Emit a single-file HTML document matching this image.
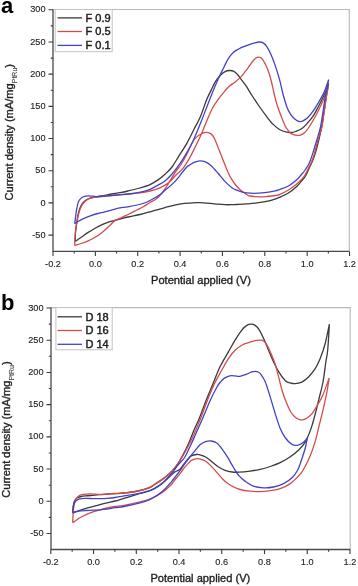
<!DOCTYPE html>
<html><head><meta charset="utf-8">
<style>
html,body{margin:0;padding:0;background:#fff;}
body{width:358px;height:586px;overflow:hidden;}
svg{display:block;}
text{font-family:"Liberation Sans",sans-serif;fill:#1e1e1e;stroke:#1e1e1e;stroke-width:0.12px;}
.tk{font-size:9.2px;}
.ti{font-size:11.1px;stroke-width:0.35px;}
.sub{font-size:7px;stroke-width:0.1px;fill:#444;stroke:#444;}
.lg{font-size:11px;stroke-width:0.45px;}
.pl{font-size:22px;font-weight:bold;fill:#000;stroke:none;}
</style></head>
<body>
<svg width="358" height="586" viewBox="0 0 358 586">
<defs><filter id="bl" x="0" y="0" width="1" height="1"><feGaussianBlur stdDeviation="0.3"/></filter></defs>
<rect width="358" height="586" fill="#fff"/>
<g filter="url(#bl)">
<path d="M53.00 9.50 H349.30 V251.40" stroke="#b9b9b9" stroke-width="1.1" fill="none"/>
<g fill="none" stroke-width="1.3" stroke-linejoin="round">
<path d="M75.20 241.50 C75.25 240.08 75.27 235.92 75.50 233.00 C75.73 230.08 76.22 226.83 76.60 224.00 C76.98 221.17 77.30 218.50 77.80 216.00 C78.30 213.50 78.85 211.08 79.60 209.00 C80.35 206.92 81.28 204.95 82.30 203.50 C83.32 202.05 84.42 201.18 85.70 200.30 C86.98 199.42 87.97 198.83 90.00 198.20 C92.03 197.57 95.42 196.97 97.90 196.50 C100.38 196.03 102.57 195.82 104.90 195.40 C107.23 194.98 109.38 194.45 111.90 194.00 C114.42 193.55 117.32 193.20 120.00 192.70 C122.68 192.20 124.67 191.78 128.00 191.00 C131.33 190.22 136.33 189.05 140.00 188.00 C143.67 186.95 147.00 186.05 150.00 184.70 C153.00 183.35 155.50 181.63 158.00 179.90 C160.50 178.17 162.67 176.45 165.00 174.30 C167.33 172.15 169.77 169.92 172.00 167.00 C174.23 164.08 175.93 160.73 178.40 156.80 C180.87 152.87 184.20 147.98 186.80 143.40 C189.40 138.82 191.65 133.97 194.00 129.30 C196.35 124.63 198.82 120.28 200.90 115.40 C202.98 110.52 204.78 104.22 206.50 100.00 C208.22 95.78 209.72 93.15 211.20 90.10 C212.68 87.05 213.78 84.27 215.40 81.70 C217.02 79.13 219.28 76.38 220.90 74.70 C222.52 73.02 223.70 72.30 225.10 71.60 C226.50 70.90 227.90 70.57 229.30 70.50 C230.70 70.43 232.10 70.50 233.50 71.20 C234.90 71.90 236.30 73.18 237.70 74.70 C239.10 76.22 240.50 78.43 241.90 80.30 C243.30 82.17 244.42 83.37 246.10 85.90 C247.78 88.43 249.85 92.15 252.00 95.50 C254.15 98.85 256.67 102.63 259.00 106.00 C261.33 109.37 263.68 112.68 266.00 115.70 C268.32 118.72 270.58 121.77 272.90 124.10 C275.22 126.43 277.57 128.35 279.90 129.70 C282.23 131.05 285.03 131.73 286.90 132.20 C288.77 132.67 289.65 132.62 291.10 132.50 C292.55 132.38 293.78 132.15 295.60 131.50 C297.42 130.85 299.92 130.13 302.00 128.60 C304.08 127.07 306.25 124.37 308.10 122.30 C309.95 120.23 311.43 118.72 313.10 116.20 C314.77 113.68 316.42 110.38 318.10 107.20 C319.78 104.02 321.67 100.47 323.20 97.10 C324.73 93.73 326.42 89.27 327.30 87.00 C328.18 84.73 328.30 84.08 328.50 83.50 M328.50 83.50 C328.35 84.42 327.92 87.08 327.60 89.00 C327.28 90.92 327.02 92.33 326.60 95.00 C326.18 97.67 325.60 101.67 325.10 105.00 C324.60 108.33 324.20 111.17 323.60 115.00 C323.00 118.83 322.30 123.83 321.50 128.00 C320.70 132.17 319.80 135.90 318.80 140.00 C317.80 144.10 316.55 149.10 315.50 152.60 C314.45 156.10 313.58 158.35 312.50 161.00 C311.42 163.65 310.12 166.08 309.00 168.50 C307.88 170.92 307.05 173.42 305.80 175.50 C304.55 177.58 302.97 179.22 301.50 181.00 C300.03 182.78 299.18 184.20 297.00 186.20 C294.82 188.20 291.23 191.17 288.40 193.00 C285.57 194.83 282.75 196.00 280.00 197.20 C277.25 198.40 274.65 199.42 271.90 200.20 C269.15 200.98 266.30 201.40 263.50 201.90 C260.70 202.40 257.88 202.87 255.10 203.20 C252.32 203.53 249.58 203.70 246.80 203.90 C244.02 204.10 240.88 204.27 238.40 204.40 C235.92 204.53 234.15 204.65 231.90 204.70 C229.65 204.75 227.23 204.78 224.90 204.70 C222.57 204.62 220.23 204.42 217.90 204.20 C215.57 203.98 213.22 203.63 210.90 203.40 C208.58 203.17 206.32 202.92 204.00 202.80 C201.68 202.68 199.33 202.65 197.00 202.70 C194.67 202.75 192.05 202.98 190.00 203.10 C187.95 203.22 187.45 203.02 184.70 203.40 C181.95 203.78 176.78 204.70 173.50 205.40 C170.22 206.10 167.75 206.87 165.00 207.60 C162.25 208.33 159.50 209.10 157.00 209.80 C154.50 210.50 152.83 211.02 150.00 211.80 C147.17 212.58 143.67 213.63 140.00 214.50 C136.33 215.37 131.33 216.23 128.00 217.00 C124.67 217.77 122.22 218.53 120.00 219.10 C117.78 219.67 116.52 219.93 114.70 220.40 C112.88 220.87 111.20 221.18 109.10 221.90 C107.00 222.62 104.43 223.65 102.10 224.70 C99.77 225.75 97.42 226.92 95.10 228.20 C92.78 229.48 90.52 230.88 88.20 232.40 C85.88 233.92 83.37 235.78 81.20 237.30 C79.03 238.82 76.20 240.80 75.20 241.50" stroke="#3a3a3a"/>
<path d="M74.70 245.60 C74.75 244.17 74.83 239.77 75.00 237.00 C75.17 234.23 75.33 231.72 75.70 229.00 C76.07 226.28 76.65 223.45 77.20 220.70 C77.75 217.95 78.23 215.05 79.00 212.50 C79.77 209.95 80.77 207.27 81.80 205.40 C82.83 203.53 84.08 202.37 85.20 201.30 C86.32 200.23 87.20 199.60 88.50 199.00 C89.80 198.40 90.73 198.15 93.00 197.70 C95.27 197.25 99.42 196.65 102.10 196.30 C104.78 195.95 106.95 195.82 109.10 195.60 C111.25 195.38 113.18 195.17 115.00 195.00 C116.82 194.83 117.67 194.80 120.00 194.60 C122.33 194.40 125.67 194.10 129.00 193.80 C132.33 193.50 136.50 193.27 140.00 192.80 C143.50 192.33 147.00 191.70 150.00 191.00 C153.00 190.30 155.50 189.58 158.00 188.60 C160.50 187.62 162.90 186.38 165.00 185.10 C167.10 183.82 168.73 182.63 170.60 180.90 C172.47 179.17 174.13 176.78 176.20 174.70 C178.27 172.62 180.83 171.07 183.00 168.40 C185.17 165.73 187.20 162.18 189.20 158.70 C191.20 155.22 192.97 151.62 195.00 147.50 C197.03 143.38 199.25 138.88 201.40 134.00 C203.55 129.12 206.05 122.53 207.90 118.20 C209.75 113.87 210.87 111.03 212.50 108.00 C214.13 104.97 215.83 102.62 217.70 100.00 C219.57 97.38 221.77 94.58 223.70 92.30 C225.63 90.02 227.43 87.98 229.30 86.30 C231.17 84.62 233.03 83.68 234.90 82.20 C236.77 80.72 238.63 79.37 240.50 77.40 C242.37 75.43 244.52 72.47 246.10 70.40 C247.68 68.33 248.78 66.65 250.00 65.00 C251.22 63.35 252.40 61.67 253.40 60.50 C254.40 59.33 255.15 58.57 256.00 58.00 C256.85 57.43 257.53 57.02 258.50 57.10 C259.47 57.18 260.55 57.10 261.80 58.50 C263.05 59.90 264.80 63.08 266.00 65.50 C267.20 67.92 268.08 70.25 269.00 73.00 C269.92 75.75 270.62 78.42 271.50 82.00 C272.38 85.58 273.37 90.67 274.30 94.50 C275.23 98.33 275.93 101.33 277.10 105.00 C278.27 108.67 279.90 112.92 281.30 116.50 C282.70 120.08 284.10 123.88 285.50 126.50 C286.90 129.12 288.37 130.85 289.70 132.20 C291.03 133.55 292.20 134.07 293.50 134.60 C294.80 135.13 296.25 135.37 297.50 135.40 C298.75 135.43 299.83 135.23 301.00 134.80 C302.17 134.37 303.32 133.85 304.50 132.80 C305.68 131.75 306.67 130.55 308.10 128.50 C309.53 126.45 311.43 123.38 313.10 120.50 C314.77 117.62 316.42 114.60 318.10 111.20 C319.78 107.80 321.68 103.80 323.20 100.10 C324.72 96.40 326.33 91.45 327.20 89.00 C328.07 86.55 328.20 86.00 328.40 85.40 M328.40 85.40 C328.28 86.17 327.98 88.40 327.70 90.00 C327.42 91.60 327.12 92.50 326.70 95.00 C326.28 97.50 325.70 101.67 325.20 105.00 C324.70 108.33 324.30 111.17 323.70 115.00 C323.10 118.83 322.55 123.83 321.60 128.00 C320.65 132.17 319.15 135.90 318.00 140.00 C316.85 144.10 315.78 148.93 314.70 152.60 C313.62 156.27 312.62 159.27 311.50 162.00 C310.38 164.73 309.07 166.83 308.00 169.00 C306.93 171.17 306.27 173.17 305.10 175.00 C303.93 176.83 302.38 178.50 301.00 180.00 C299.62 181.50 298.90 182.33 296.80 184.00 C294.70 185.67 291.20 188.28 288.40 190.00 C285.60 191.72 282.20 193.38 280.00 194.30 C277.80 195.22 277.38 195.13 275.20 195.50 C273.02 195.87 269.68 196.27 266.90 196.50 C264.12 196.73 261.30 196.98 258.50 196.90 C255.70 196.82 251.88 196.28 250.10 196.00 C248.32 195.72 249.20 196.02 247.80 195.20 C246.40 194.38 243.58 192.63 241.70 191.10 C239.82 189.57 238.22 188.03 236.50 186.00 C234.78 183.97 232.93 181.45 231.40 178.90 C229.87 176.35 228.67 173.78 227.30 170.70 C225.93 167.62 224.55 163.82 223.20 160.40 C221.85 156.98 220.55 153.60 219.20 150.20 C217.85 146.80 216.13 142.37 215.10 140.00 C214.07 137.63 213.82 137.12 213.00 136.00 C212.18 134.88 211.40 133.90 210.20 133.30 C209.00 132.70 207.42 132.25 205.80 132.40 C204.18 132.55 202.28 133.20 200.50 134.20 C198.72 135.20 196.55 136.87 195.10 138.40 C193.65 139.93 193.18 140.75 191.80 143.40 C190.42 146.05 188.60 150.78 186.80 154.30 C185.00 157.82 182.77 161.75 181.00 164.50 C179.23 167.25 177.70 168.63 176.20 170.80 C174.70 172.97 173.28 175.38 172.00 177.50 C170.72 179.62 169.67 181.62 168.50 183.50 C167.33 185.38 166.28 186.97 165.00 188.80 C163.72 190.63 162.30 192.80 160.80 194.50 C159.30 196.20 157.80 197.67 156.00 199.00 C154.20 200.33 152.18 201.17 150.00 202.50 C147.82 203.83 145.23 205.67 142.90 207.00 C140.57 208.33 138.32 209.33 136.00 210.50 C133.68 211.67 131.33 212.87 129.00 214.00 C126.67 215.13 124.33 216.20 122.00 217.30 C119.67 218.40 117.15 219.13 115.00 220.60 C112.85 222.07 111.25 224.13 109.10 226.10 C106.95 228.07 104.43 230.53 102.10 232.40 C99.77 234.27 97.42 235.90 95.10 237.30 C92.78 238.70 90.52 239.77 88.20 240.80 C85.88 241.83 83.45 242.70 81.20 243.50 C78.95 244.30 75.78 245.25 74.70 245.60" stroke="#d44c4c"/>
<path d="M74.70 223.80 C74.85 222.60 75.25 219.17 75.60 216.60 C75.95 214.03 76.35 210.78 76.80 208.40 C77.25 206.02 77.63 203.97 78.30 202.30 C78.97 200.63 79.78 199.38 80.80 198.40 C81.82 197.42 83.12 196.82 84.40 196.40 C85.68 195.98 87.07 195.93 88.50 195.90 C89.93 195.87 91.43 196.08 93.00 196.20 C94.57 196.32 95.92 196.60 97.90 196.60 C99.88 196.60 102.57 196.38 104.90 196.20 C107.23 196.02 109.38 195.73 111.90 195.50 C114.42 195.27 117.15 195.05 120.00 194.80 C122.85 194.55 125.18 194.53 129.00 194.00 C132.82 193.47 139.40 192.38 142.90 191.60 C146.40 190.82 147.48 190.38 150.00 189.30 C152.52 188.22 155.50 186.50 158.00 185.10 C160.50 183.70 162.67 182.75 165.00 180.90 C167.33 179.05 169.57 176.78 172.00 174.00 C174.43 171.22 177.03 167.93 179.60 164.20 C182.17 160.47 185.15 155.48 187.40 151.60 C189.65 147.72 190.85 145.78 193.10 140.90 C195.35 136.02 198.17 129.12 200.90 122.30 C203.63 115.48 207.32 105.60 209.50 100.00 C211.68 94.40 212.55 92.22 214.00 88.70 C215.45 85.18 216.58 82.40 218.20 78.90 C219.82 75.40 222.08 70.97 223.70 67.70 C225.32 64.43 226.27 61.87 227.90 59.30 C229.53 56.73 231.63 54.05 233.50 52.30 C235.37 50.55 237.18 49.82 239.10 48.80 C241.02 47.78 242.85 47.07 245.00 46.20 C247.15 45.33 249.67 44.30 252.00 43.60 C254.33 42.90 257.13 42.12 259.00 42.00 C260.87 41.88 261.82 42.02 263.20 42.90 C264.58 43.78 265.92 45.17 267.30 47.30 C268.68 49.43 270.10 52.43 271.50 55.70 C272.90 58.97 274.30 62.70 275.70 66.90 C277.10 71.10 278.73 76.55 279.90 80.90 C281.07 85.25 281.53 88.65 282.70 93.00 C283.87 97.35 285.60 103.47 286.90 107.00 C288.20 110.53 289.28 112.28 290.50 114.20 C291.72 116.12 292.95 117.33 294.20 118.50 C295.45 119.67 296.95 120.68 298.00 121.20 C299.05 121.72 299.67 121.65 300.50 121.60 C301.33 121.55 301.73 121.63 303.00 120.90 C304.27 120.17 306.42 118.82 308.10 117.20 C309.78 115.58 311.43 113.55 313.10 111.20 C314.77 108.85 316.42 105.95 318.10 103.10 C319.78 100.25 321.80 96.95 323.20 94.10 C324.60 91.25 325.60 88.42 326.50 86.00 C327.40 83.58 328.25 80.67 328.60 79.60 M328.60 79.60 C328.40 80.83 327.92 84.43 327.40 87.00 C326.88 89.57 326.07 92.00 325.50 95.00 C324.93 98.00 324.50 101.67 324.00 105.00 C323.50 108.33 323.12 111.17 322.50 115.00 C321.88 118.83 321.25 123.83 320.30 128.00 C319.35 132.17 318.02 135.90 316.80 140.00 C315.58 144.10 314.25 148.77 313.00 152.60 C311.75 156.43 310.62 160.10 309.30 163.00 C307.98 165.90 306.48 168.00 305.10 170.00 C303.72 172.00 302.38 173.38 301.00 175.00 C299.62 176.62 298.90 177.87 296.80 179.70 C294.70 181.53 291.20 184.40 288.40 186.00 C285.60 187.60 282.20 188.48 280.00 189.30 C277.80 190.12 277.38 190.40 275.20 190.90 C273.02 191.40 269.68 191.92 266.90 192.30 C264.12 192.68 261.30 193.05 258.50 193.20 C255.70 193.35 252.62 193.35 250.10 193.20 C247.58 193.05 245.63 192.80 243.40 192.30 C241.17 191.80 238.62 190.97 236.70 190.20 C234.78 189.43 233.87 189.17 231.90 187.70 C229.93 186.23 227.23 183.85 224.90 181.40 C222.57 178.95 220.23 175.67 217.90 173.00 C215.57 170.33 212.98 167.25 210.90 165.40 C208.82 163.55 207.25 162.65 205.40 161.90 C203.55 161.15 201.67 160.83 199.80 160.90 C197.93 160.97 195.83 161.67 194.20 162.30 C192.57 162.93 191.23 163.92 190.00 164.70 C188.77 165.48 187.97 165.87 186.80 167.00 C185.63 168.13 184.30 169.87 183.00 171.50 C181.70 173.13 180.83 174.65 179.00 176.80 C177.17 178.95 174.33 182.15 172.00 184.40 C169.67 186.65 167.10 188.53 165.00 190.30 C162.90 192.07 161.90 193.30 159.40 195.00 C156.90 196.70 152.75 199.08 150.00 200.50 C147.25 201.92 146.40 202.48 142.90 203.50 C139.40 204.52 132.82 205.87 129.00 206.60 C125.18 207.33 122.33 207.48 120.00 207.90 C117.67 208.32 117.52 208.45 115.00 209.10 C112.48 209.75 107.75 211.07 104.90 211.80 C102.05 212.53 100.22 212.87 97.90 213.50 C95.58 214.13 93.32 214.78 91.00 215.60 C88.68 216.42 86.10 217.47 84.00 218.40 C81.90 219.33 79.95 220.30 78.40 221.20 C76.85 222.10 75.32 223.37 74.70 223.80" stroke="#4343c8"/>
</g>
<path d="M53.00 9.50 V251.40 H349.30" stroke="#4a4a4a" stroke-width="1.3" fill="none"/>
<path d="M48.50 9.80H53.00 M48.50 41.98H53.00 M48.50 74.17H53.00 M48.50 106.36H53.00 M48.50 138.54H53.00 M48.50 170.73H53.00 M48.50 202.91H53.00 M48.50 235.10H53.00 M50.80 25.89H53.00 M50.80 58.08H53.00 M50.80 90.26H53.00 M50.80 122.45H53.00 M50.80 154.63H53.00 M50.80 186.82H53.00 M50.80 219.00H53.00 M53.00 251.40V255.90 M74.18 251.40V253.60 M95.36 251.40V255.90 M116.54 251.40V253.60 M137.72 251.40V255.90 M158.90 251.40V253.60 M180.08 251.40V255.90 M201.26 251.40V253.60 M222.44 251.40V255.90 M243.62 251.40V253.60 M264.80 251.40V255.90 M285.98 251.40V253.60 M307.16 251.40V255.90 M328.34 251.40V253.60 M349.52 251.40V255.90" stroke="#3a3a3a" stroke-width="1.1" fill="none"/>
<text x="45.60" y="12.40" text-anchor="end" class="tk">300</text>
<text x="45.60" y="44.59" text-anchor="end" class="tk">250</text>
<text x="45.60" y="76.77" text-anchor="end" class="tk">200</text>
<text x="45.60" y="108.95" text-anchor="end" class="tk">150</text>
<text x="45.60" y="141.14" text-anchor="end" class="tk">100</text>
<text x="45.60" y="173.33" text-anchor="end" class="tk">50</text>
<text x="45.60" y="205.51" text-anchor="end" class="tk">0</text>
<text x="45.60" y="237.70" text-anchor="end" class="tk">-50</text>
<text x="53.00" y="266.70" text-anchor="middle" class="tk">-0.2</text>
<text x="95.36" y="266.70" text-anchor="middle" class="tk">0.0</text>
<text x="137.72" y="266.70" text-anchor="middle" class="tk">0.2</text>
<text x="180.08" y="266.70" text-anchor="middle" class="tk">0.4</text>
<text x="222.44" y="266.70" text-anchor="middle" class="tk">0.6</text>
<text x="264.80" y="266.70" text-anchor="middle" class="tk">0.8</text>
<text x="307.16" y="266.70" text-anchor="middle" class="tk">1.0</text>
<text x="349.52" y="266.70" text-anchor="middle" class="tk">1.2</text>
<text x="151.00" y="283.90" class="ti">Potential applied (V)</text>
<text transform="translate(12.50 132.20) rotate(-90)" text-anchor="middle" class="ti">Current density (mA/mg<tspan class="sub" dy="4.2">PtRu</tspan><tspan dy="-4.2">)</tspan></text>
<text x="1.0" y="13.30" class="pl">a</text>
<rect x="55.20" y="9.50" width="57.00" height="42.20" fill="#fff" stroke="#c4c4c4" stroke-width="1"/>
<path d="M57.50 17.90H82.00" stroke="#3a3a3a" stroke-width="1.3"/>
<text x="85.50" y="21.80" class="lg">F 0.9</text>
<path d="M57.50 31.50H82.00" stroke="#d44c4c" stroke-width="1.3"/>
<text x="85.50" y="35.40" class="lg">F 0.5</text>
<path d="M57.50 45.40H82.00" stroke="#4343c8" stroke-width="1.3"/>
<text x="85.50" y="49.30" class="lg">F 0.1</text>
<path d="M51.00 307.60 H350.20 V549.50" stroke="#b9b9b9" stroke-width="1.1" fill="none"/>
<g fill="none" stroke-width="1.3" stroke-linejoin="round">
<path d="M72.70 512.60 C72.78 511.50 72.90 507.93 73.20 506.00 C73.50 504.07 73.87 502.33 74.50 501.00 C75.13 499.67 75.92 498.75 77.00 498.00 C78.08 497.25 79.50 496.87 81.00 496.50 C82.50 496.13 84.02 496.00 86.00 495.80 C87.98 495.60 90.58 495.48 92.90 495.30 C95.22 495.12 97.57 494.88 99.90 494.70 C102.23 494.52 104.38 494.37 106.90 494.20 C109.42 494.03 112.15 493.90 115.00 493.70 C117.85 493.50 120.18 493.45 124.00 493.00 C127.82 492.55 133.72 491.87 137.90 491.00 C142.08 490.13 146.25 488.93 149.10 487.80 C151.95 486.67 152.85 485.57 155.00 484.20 C157.15 482.83 159.67 481.30 162.00 479.60 C164.33 477.90 166.67 476.22 169.00 474.00 C171.33 471.78 173.73 469.38 176.00 466.30 C178.27 463.22 180.52 459.25 182.60 455.50 C184.68 451.75 186.60 448.05 188.50 443.80 C190.40 439.55 192.25 434.13 194.00 430.00 C195.75 425.87 197.00 423.88 199.00 419.00 C201.00 414.12 203.68 406.53 206.00 400.70 C208.32 394.87 210.82 389.12 212.90 384.00 C214.98 378.88 217.03 373.40 218.50 370.00 C219.97 366.60 220.05 366.62 221.70 363.60 C223.35 360.58 226.17 355.80 228.40 351.90 C230.63 348.00 232.87 343.83 235.10 340.20 C237.33 336.57 239.85 332.57 241.80 330.10 C243.75 327.63 245.27 326.38 246.80 325.40 C248.33 324.42 249.60 324.20 251.00 324.20 C252.40 324.20 253.80 324.42 255.20 325.40 C256.60 326.38 258.00 327.92 259.40 330.10 C260.80 332.28 262.07 335.15 263.60 338.50 C265.13 341.85 267.07 346.57 268.60 350.20 C270.13 353.83 271.13 356.72 272.80 360.30 C274.47 363.88 276.52 368.30 278.60 371.70 C280.68 375.10 283.40 378.83 285.30 380.70 C287.20 382.57 288.37 382.40 290.00 382.90 C291.63 383.40 293.13 383.83 295.10 383.70 C297.07 383.57 299.57 383.22 301.80 382.10 C304.03 380.98 306.27 379.23 308.50 377.00 C310.73 374.77 313.25 371.77 315.20 368.70 C317.15 365.63 318.53 362.80 320.20 358.60 C321.87 354.40 323.67 349.23 325.20 343.50 C326.73 337.77 328.70 327.42 329.40 324.20 M329.40 324.20 C329.12 328.50 328.32 343.53 327.70 350.00 C327.08 356.47 326.48 357.67 325.70 363.00 C324.92 368.33 324.13 375.98 323.00 382.00 C321.87 388.02 320.23 393.63 318.90 399.10 C317.57 404.57 316.30 409.92 315.00 414.80 C313.70 419.68 312.73 423.85 311.10 428.40 C309.47 432.95 307.32 438.45 305.20 442.10 C303.08 445.75 300.88 447.85 298.40 450.30 C295.92 452.75 293.33 454.73 290.30 456.80 C287.27 458.87 283.55 461.08 280.20 462.70 C276.85 464.32 273.55 465.38 270.20 466.50 C266.85 467.62 263.45 468.63 260.10 469.40 C256.75 470.17 253.60 470.63 250.10 471.10 C246.60 471.57 242.10 472.05 239.10 472.20 C236.10 472.35 234.43 472.32 232.10 472.00 C229.77 471.68 227.42 471.17 225.10 470.30 C222.78 469.43 220.52 468.32 218.20 466.80 C215.88 465.28 213.30 462.83 211.20 461.20 C209.10 459.57 207.47 458.07 205.60 457.00 C203.73 455.93 201.52 455.22 200.00 454.80 C198.48 454.38 197.95 454.33 196.50 454.50 C195.05 454.67 192.63 455.13 191.30 455.80 C189.97 456.47 189.72 457.13 188.50 458.50 C187.28 459.87 185.47 462.17 184.00 464.00 C182.53 465.83 181.23 468.15 179.70 469.50 C178.17 470.85 177.25 470.18 174.80 472.10 C172.35 474.02 167.47 478.88 165.00 481.00 C162.53 483.12 162.30 483.27 160.00 484.80 C157.70 486.33 154.53 488.75 151.20 490.20 C147.87 491.65 144.53 492.15 140.00 493.50 C135.47 494.85 128.17 497.05 124.00 498.30 C119.83 499.55 117.85 500.25 115.00 501.00 C112.15 501.75 109.42 502.20 106.90 502.80 C104.38 503.40 102.23 503.97 99.90 504.60 C97.57 505.23 95.22 505.97 92.90 506.60 C90.58 507.23 88.32 507.75 86.00 508.40 C83.68 509.05 81.22 509.80 79.00 510.50 C76.78 511.20 73.75 512.25 72.70 512.60" stroke="#3a3a3a"/>
<path d="M72.70 522.80 C72.77 521.45 72.87 517.68 73.10 514.70 C73.33 511.72 73.58 507.58 74.10 504.90 C74.62 502.22 75.38 500.12 76.20 498.60 C77.02 497.08 77.83 496.50 79.00 495.80 C80.17 495.10 81.35 494.72 83.20 494.40 C85.05 494.08 87.32 493.92 90.10 493.90 C92.88 493.88 97.10 494.28 99.90 494.30 C102.70 494.32 104.38 494.13 106.90 494.00 C109.42 493.87 112.15 493.67 115.00 493.50 C117.85 493.33 120.18 493.42 124.00 493.00 C127.82 492.58 133.72 491.90 137.90 491.00 C142.08 490.10 146.25 488.77 149.10 487.60 C151.95 486.43 152.85 485.33 155.00 484.00 C157.15 482.67 159.67 481.27 162.00 479.60 C164.33 477.93 166.67 476.22 169.00 474.00 C171.33 471.78 173.68 469.33 176.00 466.30 C178.32 463.27 180.35 460.18 182.90 455.80 C185.45 451.42 188.38 446.15 191.30 440.00 C194.22 433.85 197.73 425.45 200.40 418.90 C203.07 412.35 204.98 406.52 207.30 400.70 C209.62 394.88 211.90 389.07 214.30 384.00 C216.70 378.93 219.35 374.53 221.70 370.30 C224.05 366.07 226.17 361.95 228.40 358.60 C230.63 355.25 232.87 352.43 235.10 350.20 C237.33 347.97 239.57 346.45 241.80 345.20 C244.03 343.95 246.27 343.45 248.50 342.70 C250.73 341.95 253.25 341.12 255.20 340.70 C257.15 340.28 258.80 340.15 260.20 340.20 C261.60 340.25 262.47 340.17 263.60 341.00 C264.73 341.83 265.88 343.38 267.00 345.20 C268.12 347.02 268.97 348.83 270.30 351.90 C271.63 354.97 273.62 359.45 275.00 363.60 C276.38 367.75 277.43 372.37 278.60 376.80 C279.77 381.23 280.80 386.17 282.00 390.20 C283.20 394.23 284.38 397.45 285.80 401.00 C287.22 404.55 288.97 408.83 290.50 411.50 C292.03 414.17 293.50 415.65 295.00 417.00 C296.50 418.35 298.17 419.13 299.50 419.60 C300.83 420.07 301.75 420.07 303.00 419.80 C304.25 419.53 305.45 419.08 307.00 418.00 C308.55 416.92 310.48 415.60 312.30 413.30 C314.12 411.00 316.15 407.22 317.90 404.20 C319.65 401.18 320.92 399.57 322.80 395.20 C324.68 390.83 328.13 380.87 329.20 378.00 M329.20 378.00 C328.78 380.53 327.77 387.73 326.70 393.20 C325.63 398.67 324.10 405.25 322.80 410.80 C321.50 416.35 320.18 421.32 318.90 426.50 C317.62 431.68 316.65 436.77 315.10 441.90 C313.55 447.03 311.45 452.87 309.60 457.30 C307.75 461.73 305.60 465.65 304.00 468.50 C302.40 471.35 302.28 471.88 300.00 474.40 C297.72 476.92 293.60 481.22 290.30 483.60 C287.00 485.98 283.55 487.52 280.20 488.70 C276.85 489.88 273.55 490.20 270.20 490.70 C266.85 491.20 263.45 491.62 260.10 491.70 C256.75 491.78 253.45 491.57 250.10 491.20 C246.75 490.83 242.77 490.23 240.00 489.50 C237.23 488.77 235.52 487.80 233.50 486.80 C231.48 485.80 229.77 484.85 227.90 483.50 C226.03 482.15 224.15 480.55 222.30 478.70 C220.45 476.85 218.65 474.50 216.80 472.40 C214.95 470.30 213.07 467.97 211.20 466.10 C209.33 464.23 207.47 462.38 205.60 461.20 C203.73 460.02 201.45 459.42 200.00 459.00 C198.55 458.58 198.35 458.47 196.90 458.70 C195.45 458.93 192.55 459.78 191.30 460.40 C190.05 461.02 190.52 461.25 189.40 462.40 C188.28 463.55 186.22 465.35 184.60 467.30 C182.98 469.25 181.33 471.98 179.70 474.10 C178.07 476.22 176.27 478.18 174.80 480.00 C173.33 481.82 172.98 482.93 170.90 485.00 C168.82 487.07 165.58 490.15 162.30 492.40 C159.02 494.65 154.92 496.92 151.20 498.50 C147.48 500.08 144.53 500.77 140.00 501.90 C135.47 503.03 128.17 504.53 124.00 505.30 C119.83 506.07 117.85 506.05 115.00 506.50 C112.15 506.95 109.42 507.45 106.90 508.00 C104.38 508.55 102.23 509.15 99.90 509.80 C97.57 510.45 95.22 511.08 92.90 511.90 C90.58 512.72 88.32 513.65 86.00 514.70 C83.68 515.75 81.22 516.85 79.00 518.20 C76.78 519.55 73.75 522.03 72.70 522.80" stroke="#d44c4c"/>
<path d="M72.70 513.00 C72.82 511.88 72.93 508.23 73.40 506.30 C73.87 504.37 74.57 502.62 75.50 501.40 C76.43 500.18 77.25 499.50 79.00 499.00 C80.75 498.50 83.68 498.47 86.00 498.40 C88.32 498.33 90.58 498.57 92.90 498.60 C95.22 498.63 97.57 498.65 99.90 498.60 C102.23 498.55 104.38 498.48 106.90 498.30 C109.42 498.12 112.15 497.92 115.00 497.50 C117.85 497.08 120.18 496.45 124.00 495.80 C127.82 495.15 133.37 494.53 137.90 493.60 C142.43 492.67 147.52 491.60 151.20 490.20 C154.88 488.80 157.70 486.82 160.00 485.20 C162.30 483.58 163.00 482.53 165.00 480.50 C167.00 478.47 169.83 475.58 172.00 473.00 C174.17 470.42 175.90 467.58 178.00 465.00 C180.10 462.42 182.53 460.70 184.60 457.50 C186.67 454.30 188.62 449.55 190.40 445.80 C192.18 442.05 193.40 439.25 195.30 435.00 C197.20 430.75 199.33 426.02 201.80 420.30 C204.27 414.58 207.55 406.28 210.10 400.70 C212.65 395.12 215.37 389.92 217.10 386.80 C218.83 383.68 219.33 383.40 220.50 382.00 C221.67 380.60 222.57 379.42 224.10 378.40 C225.63 377.38 227.88 376.32 229.70 375.90 C231.52 375.48 233.55 375.82 235.00 375.90 C236.45 375.98 237.23 376.43 238.40 376.40 C239.57 376.37 240.60 376.07 242.00 375.70 C243.40 375.33 245.30 374.78 246.80 374.20 C248.30 373.62 249.62 372.67 251.00 372.20 C252.38 371.73 253.85 371.40 255.10 371.40 C256.35 371.40 257.52 371.68 258.50 372.20 C259.48 372.72 259.88 372.90 261.00 374.50 C262.12 376.10 263.67 378.07 265.20 381.80 C266.73 385.53 268.53 391.60 270.20 396.90 C271.87 402.20 273.52 408.30 275.20 413.60 C276.88 418.90 278.58 424.63 280.30 428.70 C282.02 432.77 283.63 435.43 285.50 438.00 C287.37 440.57 289.52 442.88 291.50 444.10 C293.48 445.32 295.45 445.57 297.40 445.30 C299.35 445.03 301.55 443.72 303.20 442.50 C304.85 441.28 306.62 438.75 307.30 438.00 M307.30 438.00 C306.98 439.58 306.30 444.05 305.40 447.50 C304.50 450.95 303.18 454.95 301.90 458.70 C300.62 462.45 299.35 466.82 297.70 470.00 C296.05 473.18 294.35 475.53 292.00 477.80 C289.65 480.07 286.68 482.07 283.60 483.60 C280.52 485.13 276.85 486.30 273.50 487.00 C270.15 487.70 266.85 487.95 263.50 487.80 C260.15 487.65 256.48 487.22 253.40 486.10 C250.32 484.98 247.38 482.80 245.00 481.10 C242.62 479.40 241.02 478.17 239.10 475.90 C237.18 473.63 235.37 470.53 233.50 467.50 C231.63 464.47 229.77 460.73 227.90 457.70 C226.03 454.67 224.15 451.75 222.30 449.30 C220.45 446.85 218.65 444.38 216.80 443.00 C214.95 441.62 213.07 441.23 211.20 441.00 C209.33 440.77 207.47 440.97 205.60 441.60 C203.73 442.23 201.88 443.13 200.00 444.80 C198.12 446.47 196.07 449.48 194.30 451.60 C192.53 453.72 191.03 455.43 189.40 457.50 C187.77 459.57 186.12 461.72 184.50 464.00 C182.88 466.28 181.65 468.53 179.70 471.20 C177.75 473.87 174.43 477.95 172.80 480.00 C171.17 482.05 171.65 481.58 169.90 483.50 C168.15 485.42 165.42 488.95 162.30 491.50 C159.18 494.05 154.92 496.92 151.20 498.80 C147.48 500.68 144.53 501.52 140.00 502.80 C135.47 504.08 128.17 505.68 124.00 506.50 C119.83 507.32 117.85 507.27 115.00 507.70 C112.15 508.13 109.42 508.75 106.90 509.10 C104.38 509.45 102.23 509.62 99.90 509.80 C97.57 509.98 95.22 510.08 92.90 510.20 C90.58 510.32 88.32 510.33 86.00 510.50 C83.68 510.67 81.22 510.78 79.00 511.20 C76.78 511.62 73.75 512.70 72.70 513.00" stroke="#4343c8"/>
</g>
<path d="M51.00 307.60 V549.50 H350.20" stroke="#4a4a4a" stroke-width="1.3" fill="none"/>
<path d="M46.50 308.00H51.00 M46.50 340.21H51.00 M46.50 372.43H51.00 M46.50 404.64H51.00 M46.50 436.86H51.00 M46.50 469.07H51.00 M46.50 501.29H51.00 M46.50 533.50H51.00 M48.80 324.11H51.00 M48.80 356.32H51.00 M48.80 388.54H51.00 M48.80 420.75H51.00 M48.80 452.97H51.00 M48.80 485.18H51.00 M48.80 517.40H51.00 M50.80 549.50V554.00 M72.17 549.50V551.70 M93.54 549.50V554.00 M114.91 549.50V551.70 M136.28 549.50V554.00 M157.65 549.50V551.70 M179.02 549.50V554.00 M200.39 549.50V551.70 M221.76 549.50V554.00 M243.13 549.50V551.70 M264.50 549.50V554.00 M285.87 549.50V551.70 M307.24 549.50V554.00 M328.61 549.50V551.70 M349.98 549.50V554.00" stroke="#3a3a3a" stroke-width="1.1" fill="none"/>
<text x="43.60" y="310.60" text-anchor="end" class="tk">300</text>
<text x="43.60" y="342.81" text-anchor="end" class="tk">250</text>
<text x="43.60" y="375.03" text-anchor="end" class="tk">200</text>
<text x="43.60" y="407.25" text-anchor="end" class="tk">150</text>
<text x="43.60" y="439.46" text-anchor="end" class="tk">100</text>
<text x="43.60" y="471.68" text-anchor="end" class="tk">50</text>
<text x="43.60" y="503.89" text-anchor="end" class="tk">0</text>
<text x="43.60" y="536.11" text-anchor="end" class="tk">-50</text>
<text x="50.80" y="564.80" text-anchor="middle" class="tk">-0.2</text>
<text x="93.54" y="564.80" text-anchor="middle" class="tk">0.0</text>
<text x="136.28" y="564.80" text-anchor="middle" class="tk">0.2</text>
<text x="179.02" y="564.80" text-anchor="middle" class="tk">0.4</text>
<text x="221.76" y="564.80" text-anchor="middle" class="tk">0.6</text>
<text x="264.50" y="564.80" text-anchor="middle" class="tk">0.8</text>
<text x="307.24" y="564.80" text-anchor="middle" class="tk">1.0</text>
<text x="349.98" y="564.80" text-anchor="middle" class="tk">1.2</text>
<text x="150.40" y="582.10" class="ti">Potential applied (V)</text>
<text transform="translate(9.80 429.55) rotate(-90)" text-anchor="middle" class="ti">Current density (mA/mg<tspan class="sub" dy="4.2">PtRu</tspan><tspan dy="-4.2">)</tspan></text>
<text x="1.0" y="309.80" class="pl">b</text>
<rect x="55.90" y="307.60" width="56.30" height="42.20" fill="#fff" stroke="#c4c4c4" stroke-width="1"/>
<path d="M57.50 316.80H82.00" stroke="#3a3a3a" stroke-width="1.3"/>
<text x="85.50" y="320.70" class="lg">D 18</text>
<path d="M57.50 330.50H82.00" stroke="#d44c4c" stroke-width="1.3"/>
<text x="85.50" y="334.40" class="lg">D 16</text>
<path d="M57.50 344.30H82.00" stroke="#4343c8" stroke-width="1.3"/>
<text x="85.50" y="348.20" class="lg">D 14</text>
</g>
</svg>
</body></html>
